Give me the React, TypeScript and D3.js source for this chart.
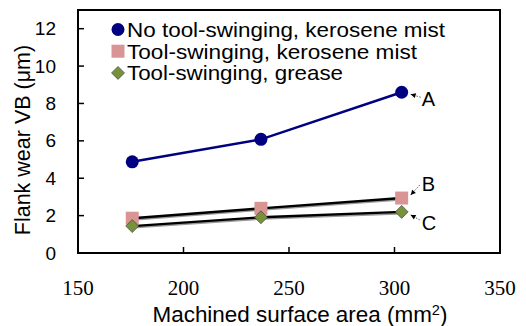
import React, { useEffect, useRef } from 'react'
import * as d3 from 'd3'

const areas = [175.7, 236.7, 303.4]
const wearA = [4.88, 6.08, 8.6]
const wearB = [1.86, 2.39, 2.94]
const wearC = [1.44, 1.91, 2.2]
const xTicks = [150, 200, 250, 300, 350]
const yTicks = [0, 2, 4, 6, 8, 10, 12]
const legendLabels = [
  'No tool-swinging, kerosene mist',
  'Tool-swinging, kerosene mist',
  'Tool-swinging, grease'
]
const legendWidths = [318, 290, 216]
const curveLabels = ['A', 'B', 'C']

const W = 526
const H = 326

type G = d3.Selection<SVGGElement, unknown, null, undefined>

const App: React.FC = () => {
  const svgRef = useRef<SVGSVGElement>(null)

  useEffect(() => {
    if (!svgRef.current) return
    const svg = d3.select(svgRef.current)
    svg.selectAll('*').remove()

    const sans = 'Arial, "Liberation Sans", sans-serif'
    const serif = '"Times New Roman", "Liberation Serif", serif'

    const x = d3.scaleLinear().domain([150, 350]).range([78, 500])
    const y = d3.scaleLinear().domain([0, 13]).range([253, 10])

    // frame
    svg.append('rect')
      .attr('x', x(150)).attr('y', y(13))
      .attr('width', x(350) - x(150)).attr('height', y(0) - y(13))
      .attr('fill', 'none').attr('stroke', '#000').attr('stroke-width', 2)

    // y ticks (inward)
    yTicks.forEach(t => {
      svg.append('line')
        .attr('x1', x(150)).attr('x2', x(150) + 6)
        .attr('y1', y(t)).attr('y2', y(t))
        .attr('stroke', '#000').attr('stroke-width', 1.5)
      svg.append('text')
        .attr('x', 56).attr('y', y(t))
        .attr('dy', '0.35em')
        .attr('text-anchor', 'end')
        .style('font-family', sans).style('font-size', '19px')
        .text(t)
    })

    // x ticks (inward)
    xTicks.forEach(t => {
      svg.append('line')
        .attr('x1', x(t)).attr('x2', x(t))
        .attr('y1', y(0)).attr('y2', y(0) - 6)
        .attr('stroke', '#000').attr('stroke-width', 1.5)
      svg.append('text')
        .attr('x', x(t)).attr('y', 295)
        .attr('text-anchor', 'middle')
        .style('font-family', serif).style('font-size', '21px')
        .text(t)
    })

    // axis titles
    const xt = svg.append('text')
      .attr('x', 300).attr('y', 322)
      .attr('text-anchor', 'middle')
      .attr('textLength', 295)
      .attr('lengthAdjust', 'spacingAndGlyphs')
      .style('font-family', sans).style('font-size', '21.5px')
    xt.append('tspan').text('Machined surface area (mm')
    xt.append('tspan').attr('font-size', '14px').attr('dy', -7).text('2')
    xt.append('tspan').attr('dy', 7).text(')')

    svg.append('text')
      .attr('transform', `translate(30,140) rotate(-90)`)
      .attr('text-anchor', 'middle')
      .style('font-family', sans).style('font-size', '21.5px')
      .text('Flank wear VB (μm)')

    const line = d3.line<[number, number]>()
      .x(d => x(d[0])).y(d => y(d[1]))

    const series = [
      { vals: wearA, color: '#000080', shadow: false },
      { vals: wearB, color: '#000', shadow: true },
      { vals: wearC, color: '#000', shadow: true }
    ]
    series.forEach(s => {
      const pts = areas.map((a, i) => [a, s.vals[i]] as [number, number])
      if (s.shadow) {
        svg.append('path')
          .attr('d', line(pts))
          .attr('transform', 'translate(1,1.5)')
          .attr('fill', 'none')
          .attr('stroke', '#999')
          .attr('stroke-width', 2)
      }
      svg.append('path')
        .attr('d', line(pts))
        .attr('fill', 'none')
        .attr('stroke', s.color)
        .attr('stroke-width', 2.4)
    })

    const circle = (g: G, cx: number, cy: number) => {
      g.append('circle').attr('cx', cx).attr('cy', cy).attr('r', 6.5).attr('fill', '#000080')
    }
    const square = (g: G, cx: number, cy: number) => {
      g.append('rect').attr('x', cx - 6.5).attr('y', cy - 6.5).attr('width', 13).attr('height', 13)
        .attr('fill', '#d99594')
    }
    const diamond = (g: G, cx: number, cy: number) => {
      g.append('path')
        .attr('d', `M${cx},${cy - 6.5}L${cx + 6.5},${cy}L${cx},${cy + 6.5}L${cx - 6.5},${cy}Z`)
        .attr('fill', '#76923c')
        .attr('stroke', '#333').attr('stroke-width', 0.6)
    }
    const markers = [circle, square, diamond]

    const mg = svg.append('g')
    series.forEach((s, si) => {
      areas.forEach((a, i) => markers[si](mg, x(a), y(s.vals[i])))
    })

    // legend
    const lg = svg.append('g')
    legendLabels.forEach((lab, i) => {
      const ly = 29.5 + i * 21.7
      markers[i](lg, 118, ly)
      lg.append('text')
        .attr('x', 127).attr('y', ly)
        .attr('dy', '0.35em')
        .attr('textLength', legendWidths[i])
        .attr('lengthAdjust', 'spacingAndGlyphs')
        .style('font-family', sans).style('font-size', '21px')
        .text(lab)
    })

    // curve annotations: [tipDx, tipDy, tailDx, tailDy, labelDy]
    const lastVals = [wearA[2], wearB[2], wearC[2]]
    const ann = [[9, 2, 19, 5, 7], [9, -3, 18, -13, -14], [9, 3, 18, 8, 11]]
    curveLabels.forEach((lab, i) => {
      const px = x(areas[2])
      const py = y(lastVals[i])
      const [tdx, tdy, ldx, ldy, lby] = ann[i]
      const ax = px + tdx
      const ay = py + tdy
      const bx = px + ldx
      const by = py + ldy
      svg.append('line')
        .attr('x1', ax).attr('y1', ay).attr('x2', bx).attr('y2', by)
        .attr('stroke', '#555').attr('stroke-width', 1)
        .attr('stroke-dasharray', '1.5,1.5')
      const len = Math.hypot(bx - ax, by - ay)
      const ux = (bx - ax) / len
      const uy = (by - ay) / len
      svg.append('path')
        .attr('d', `M${ax},${ay}L${ax + ux * 5 - uy * 2.5},${ay + uy * 5 + ux * 2.5}L${ax + ux * 5 + uy * 2.5},${ay + uy * 5 - ux * 2.5}Z`)
        .attr('fill', '#000')
      svg.append('text')
        .attr('x', px + 20).attr('y', py + lby)
        .attr('dy', '0.35em')
        .style('font-family', sans).style('font-size', '20px')
        .text(lab)
    })
  }, [])

  return (
    <svg ref={svgRef} width={W} height={H} style={{ position: 'absolute', left: 0, top: 0, background: '#fff' }} />
  )
}

export default App
